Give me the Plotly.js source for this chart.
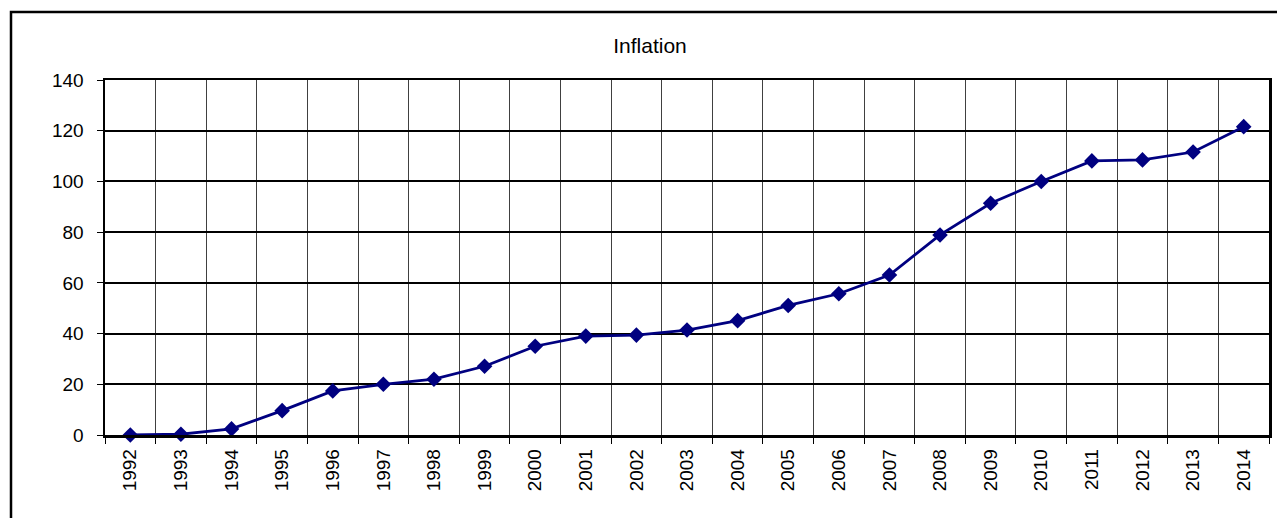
<!DOCTYPE html>
<html>
<head>
<meta charset="utf-8">
<script src="https://cdn.plot.ly/plotly-3.0.1.min.js"></script>
<style>
html,body{margin:0;padding:0;background:#fff;}
#chart{width:1277px;height:518px;}
</style>
</head>
<body>
<div id="chart"></div>
<script>
const years = ['1992','1993','1994','1995','1996','1997','1998','1999','2000','2001','2002','2003','2004','2005','2006','2007','2008','2009','2010','2011','2012','2013','2014'];
const inflation = [0, 0.3, 2.4, 9.6, 17.4, 20.0, 22.0, 27.1, 35.0, 39.0, 39.4, 41.4, 45.1, 51.1, 55.7, 63.1, 78.9, 91.4, 100.0, 108.1, 108.5, 111.6, 121.6];
const yTicks = [0, 20, 40, 60, 80, 100, 120, 140];
const chartTitle = 'Inflation';

const font = 'Liberation Sans, Arial, sans-serif';

const trace = {
  x: years,
  y: inflation,
  type: 'scatter',
  mode: 'lines+markers',
  line: {color: '#000080', width: 2.8},
  marker: {symbol: 'diamond', size: 12, color: '#000080'},
  cliponaxis: false,
  hoverinfo: 'x+y'
};

const layout = {
  width: 1277,
  height: 518,
  margin: {l: 105, r: 8, t: 80, b: 83},
  paper_bgcolor: '#fff',
  plot_bgcolor: '#fff',
  showlegend: false,
  font: {family: font, color: '#000', size: 19},
  title: {
    text: chartTitle,
    font: {family: font, size: 21, color: '#000'},
    xref: 'container', yref: 'container',
    x: 650/1277, y: 1 - 46/518,
    xanchor: 'center', yanchor: 'middle'
  },
  xaxis: {
    type: 'category',
    range: [-0.5, years.length - 0.5],
    tickson: 'boundaries',
    tickangle: -90,
    ticks: 'outside',
    ticklen: 6,
    tickwidth: 1,
    tickcolor: '#000',
    showgrid: true,
    gridcolor: '#404040',
    gridwidth: 1,
    showline: true,
    linecolor: '#000',
    linewidth: 2.5,
    mirror: true,
    zeroline: false,
    tickfont: {family: font, size: 19, color: '#000'},
    ticklabelstandoff: 4,
    automargin: false
  },
  yaxis: {
    range: [0, 140],
    tickvals: yTicks,
    ticktext: yTicks.map(String),
    ticks: 'outside',
    ticklen: 6,
    tickwidth: 1,
    tickcolor: '#000',
    showgrid: true,
    gridcolor: '#000',
    gridwidth: 2,
    showline: true,
    linecolor: '#000',
    linewidth: 2.5,
    mirror: true,
    zeroline: false,
    tickfont: {family: font, size: 19, color: '#000'},
    ticklabelstandoff: 9,
    automargin: false
  },
  shapes: [{
    type: 'rect',
    xref: 'paper', yref: 'paper',
    x0: (11 - 105) / 1164, x1: (1290 - 105) / 1164,
    y0: (435 - 530) / 355, y1: (435 - 12) / 355,
    line: {color: '#000', width: 2.5},
    fillcolor: 'rgba(0,0,0,0)',
    layer: 'below'
  }]
};

Plotly.newPlot('chart', [trace], layout, {displayModeBar: false, staticPlot: true});
</script>
</body>
</html>
